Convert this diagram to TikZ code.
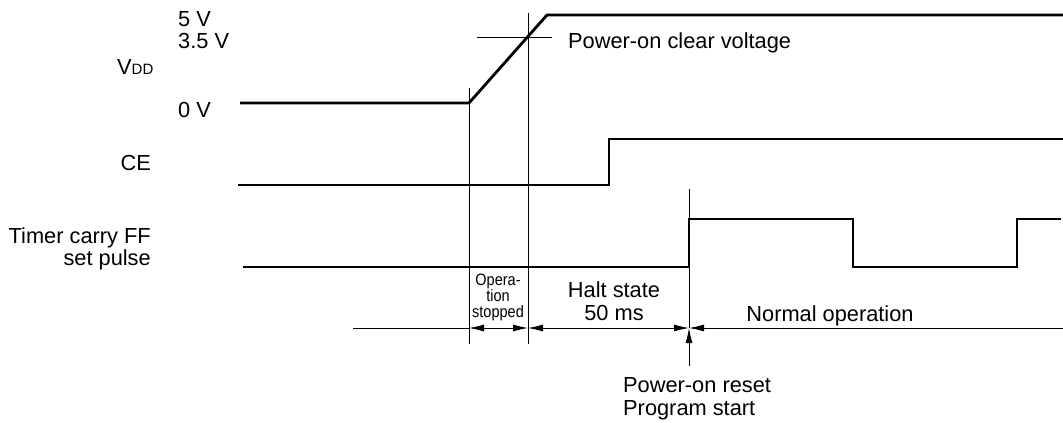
\documentclass[tikz,border=0pt]{standalone}
\usepackage{fontspec}
\setmainfont{Liberation Sans}
\newfontfamily\narrowsans[FakeStretch=0.88]{Liberation Sans}
\usetikzlibrary{arrows.meta, positioning}

\tikzset{
  sig/.style={line width=2.8pt, line join=miter},
  guide/.style={line width=0.9pt},
  tip/.tip={Latex[length=15pt, width=7pt]},
  dim/.style={guide, tip-tip},
  lbl/.style={font=\fontsize{21.8}{24}\selectfont, inner sep=0pt},
  tiny/.style={font=\narrowsans\fontsize{16.5}{16}\selectfont, inner sep=0pt, align=center}
}

\begin{document}
\begin{tikzpicture}[x=1pt, y=-1pt]
            \useasboundingbox (0,0) rectangle (1063,423);
            % signal labels
            \node[lbl, anchor=base west] (v5) at (178,26) {5 V};
            \node[lbl, anchor=base west] (v35) at (178,48) {3.5 V};
            \node[lbl, anchor=base west] (vdd) at (117,74) {V{\fontsize{15}{17}\selectfont DD}};
            \node[lbl, anchor=base west] (v0) at (178,117) {0 V};
            \node[lbl, anchor=base east] (ce) at (151,170) {CE};
            \node[lbl, anchor=base east] (tm1) at (151,243) {Timer carry FF};
            \node[lbl, anchor=base east] (tm2) at (151,265) {set pulse};
            % VDD waveform
            \coordinate (d0) at (240,103);
            \coordinate (d1) at (469,103);
            \coordinate (d2) at (547,15);
            \coordinate (d3) at (1063,15);
            \draw[sig] (d0) -- (d1) -- (d2) -- (d3);
            % CE waveform
            \coordinate (c0) at (238,185);
            \coordinate (c1) at (609,185);
            \coordinate (c2) at (609,139);
            \coordinate (c3) at (1063,139);
            \draw[sig] (c0) -- (c1) -- (c2) -- (c3);
            % timer carry waveform
            \coordinate (t0) at (243,267);
            \coordinate (t1) at (689,267);
            \coordinate (t2) at (689,219);
            \coordinate (t3) at (853,219);
            \coordinate (t4) at (853,267);
            \coordinate (t5) at (1017,267);
            \coordinate (t6) at (1017,219);
            \coordinate (t7) at (1061,219);
            \draw[sig] (t0) -- (t1) -- (t2) -- (t3) -- (t4) -- (t5) -- (t6) -- (t7);
            % guide lines
            \coordinate (g1a) at (469,88);
            \coordinate (g1b) at (469,344);
            \coordinate (g2a) at (528,13);
            \coordinate (g2b) at (528,344);
            \coordinate (g3a) at (689,189);
            \coordinate (g3b) at (689,328);
            \coordinate (hc0) at (477,37);
            \coordinate (hc1) at (552,37);
            \draw[guide] (g1a) -- (g1b);
            \draw[guide] (g2a) -- (g2b);
            \draw[guide] (g3a) -- (g3b);
            \draw[guide] (hc0) -- (hc1);
            \node[lbl, anchor=base west] (pcv) at (568,48) {Power-on clear voltage};
            % time spans
            \coordinate (s0) at (353,328);
            \coordinate (s1) at (469,328);
            \coordinate (s2) at (528,328);
            \coordinate (s3) at (689,328);
            \coordinate (s4) at (1063,328);
            \draw[guide] (s0) -- (s1);
            \draw[dim] (s1) -- (s2);
            \draw[dim] (s2) -- (s3);
            \draw[guide, -tip] (s4) -- (s3);
            \node[tiny] (opstop) at (498,297) {Opera-\\tion\\stopped};
            \node[lbl, anchor=base] (halt1) at (614,297) {Halt state};
            \node[lbl, anchor=base] (halt2) at (614,320) {50 ms};
            \node[lbl, anchor=base] (norm) at (830,321) {Normal operation};
            % reset marker
            \coordinate (r0) at (689,366);
            \draw[guide, -tip] (r0) -- (s3);
            \node[lbl, anchor=base west] (rst1) at (623,392) {Power-on reset};
            \node[lbl, anchor=base west] (rst2) at (623,415) {Program start};
        \end{tikzpicture}
\end{document}
